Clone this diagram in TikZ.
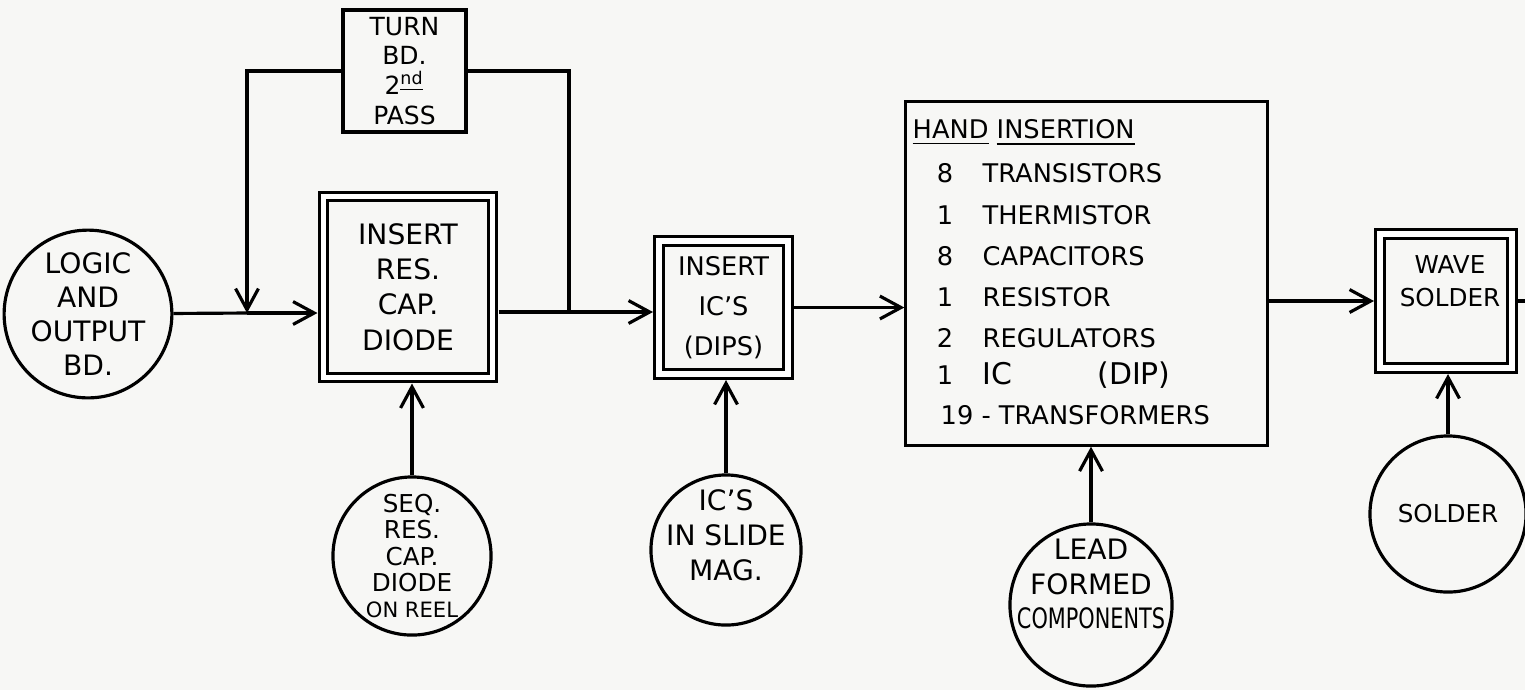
\documentclass[tikz,border=0pt]{standalone}
\usepackage{fontspec}
\setmainfont{DejaVu Sans}
\usepackage{graphicx}
\usepackage{tikz}
\usetikzlibrary{arrows.meta}
\definecolor{paper}{RGB}{247,247,245}
\newcommand{\fsz}[2]{\fontsize{#1}{#2}\selectfont}

\begin{document}
\begin{tikzpicture}[x=0.01cm, y=-0.01cm,
  wire/.style={line width=0.9pt},
  flow/.style={-{Straight Barb[length=6pt,width=6.5pt]}},
  stage/.style={circle, draw, line width=0.9pt, inner sep=0pt, align=center},
  plainbox/.style={rectangle, draw, line width=0.9pt, inner sep=0pt, align=center},
  dblbox/.style={rectangle, draw, line width=0.9pt, double, double distance=1.5pt,
    outer sep=1.7pt, inner sep=0pt, align=center},
  txt/.style={inner sep=0pt, align=center}]
  \fill[paper] (0,0) rectangle (1525,690);
  \useasboundingbox (0,0) rectangle (1525,690);
  % Board and first pass
  \node[stage, minimum size=1.62cm, font=\fsz{8}{9.7}] (logic) at (88,314) {LOGIC\\AND\\OUTPUT\\BD.};
  \node[dblbox, minimum width=1.69cm, minimum height=1.81cm, font=\fsz{8}{10}] (ins) at (408,287) {INSERT\\RES.\\CAP.\\DIODE};
  \node[plainbox, minimum width=1.23cm, minimum height=1.22cm, font=\fsz{7.1}{8.5}] (turn) at (404.5,71) {TURN\\BD.\\2\textsuperscript{\underline{nd}}\\PASS};
  \node[stage, minimum size=1.58cm, font=\fsz{7}{7.4}] (seq) at (412,556) {SEQ.\\RES.\\CAP.\\DIODE\\{\fsz{6}{7.4}ON REEL}};
  \coordinate (j1) at (247,313);
  \coordinate (j2) at (569,312);
  % ICs
  \node[dblbox, minimum width=1.29cm, minimum height=1.33cm, font=\fsz{7.3}{11.4}] (ics) at (723.5,307.5) {INSERT\\IC'S\\(DIPS)};
  \node[stage, minimum size=1.5cm] (mag) at (726,550) {};
  \node[txt, font=\fsz{8}{10}] (magtxt) at (726,535) {IC'S\\IN SLIDE\\MAG.};
  % Hand insertion
  \node[plainbox, minimum width=3.61cm, minimum height=3.43cm] (hand) at (1086.5,273.5) {};
  \node[txt, anchor=west, font=\fsz{7.3}{9}] (handhd) at (912,133) {\underline{HAND} \underline{INSERTION}};
  \foreach \yy/\num/\part [count=\k] in {173/8/TRANSISTORS, 215/1/THERMISTOR, 256/8/CAPACITORS,
      297/1/RESISTOR, 338/2/REGULATORS, 375/1/{\fsz{8.5}{9}IC\hspace{0.85cm}(DIP)}} {
    \node[txt, font=\fsz{7.3}{9}] (num\k) at (945,\yy) {\num};
    \node[txt, anchor=west, font=\fsz{7.3}{9}] (part\k) at (982,\yy) {\part};
  }
  \node[txt, anchor=west, font=\fsz{7.3}{9}] (part7) at (940,415) {19 - TRANSFORMERS};
  \node[stage, minimum size=1.62cm] (lead) at (1091,605) {};
  \node[txt, font=\fsz{8}{9.7}] (leadtxt) at (1091,584) {LEAD\\FORMED\\\scalebox{0.74}[1]{COMPONENTS}};
  % Solder
  \node[dblbox, minimum width=1.32cm, minimum height=1.34cm] (wave) at (1446,301) {};
  \node[txt, font=\fsz{7}{9.4}] (wavetxt) at (1450,281) {WAVE\\SOLDER};
  \node[stage, minimum size=1.56cm, font=\fsz{7}{8}] (solder) at (1448,514) {SOLDER};
  \coordinate (edge) at (1525,301);
  % Connectors
  \draw[wire] (logic) -- (j1);
  \draw[wire, flow] (j1) -- (ins.west |- j1);
  \draw[wire] (ins.east |- j2) -- (j2);
  \draw[wire, flow] (j2) -- (ics.west |- j2);
  \draw[wire, flow] (turn.west) -| (j1);
  \draw[wire] (j2) |- (turn.east);
  \draw[wire, flow] (ics) -- (ics -| hand.west);
  \draw[wire, flow] (hand.east |- wave) -- (wave);
  \draw[wire] (wave) -- (edge);
  \draw[wire, flow] (seq) -- (seq |- ins.south);
  \draw[wire, flow] (mag) -- (mag |- ics.south);
  \draw[wire, flow] (lead) -- (lead |- hand.south);
  \draw[wire, flow] (solder) -- (solder |- wave.south);
\end{tikzpicture}
\end{document}
